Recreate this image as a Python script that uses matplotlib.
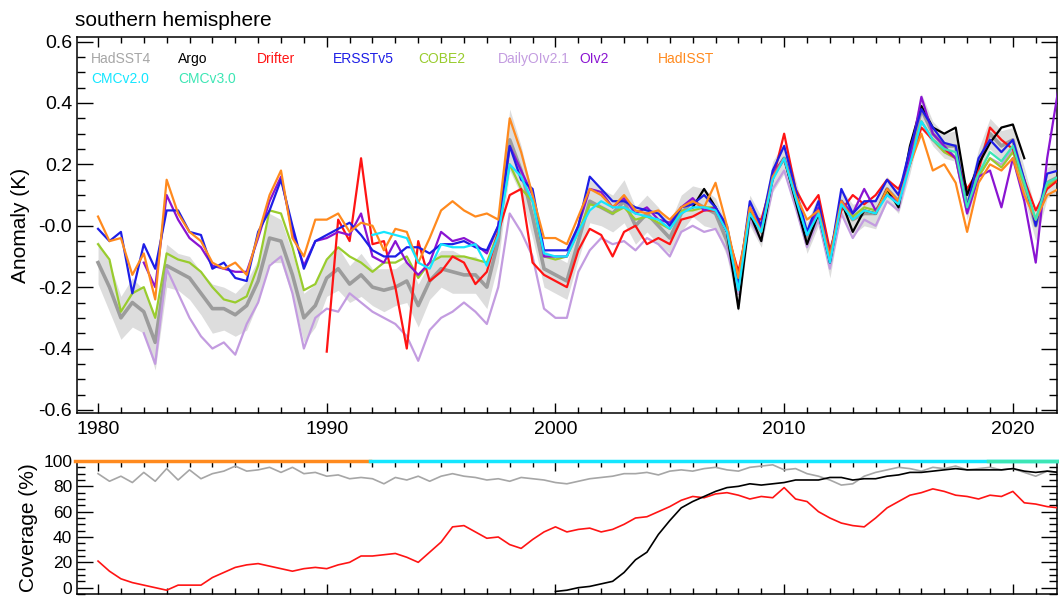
import numpy as np
import matplotlib
matplotlib.use("Agg")
import matplotlib.pyplot as plt
from matplotlib.ticker import MultipleLocator, FixedLocator, FixedFormatter

plt.rcParams["font.family"] = ["Liberation Sans", "DejaVu Sans"]

nan = np.nan

# ── Data (half-year samples, 1980.0 .. 2022.0) ──────────────────────────────
YEARS = np.arange(1980.0, 2022.01, 0.5)

ERSST = [
    -0.01, -0.05, -0.02, -0.22, -0.06, -0.14, 0.05, 0.05, -0.02, -0.03,
    -0.14, -0.12, -0.17, -0.18, -0.02, 0.05, 0.15, 0.00, -0.14, -0.05,
    -0.03, -0.01, 0.01, -0.03, -0.08, -0.10, -0.10, -0.07, -0.07, -0.09,
    -0.06, -0.06, -0.05, -0.07, -0.08, 0.00, 0.26, 0.15, 0.12, -0.08,
    -0.08, -0.08, 0.00, 0.16, 0.12, 0.08, 0.08, 0.06, 0.05, 0.04,
    0.00, 0.06, 0.07, 0.10, 0.06, 0.00, -0.19, 0.08, 0.00, 0.18,
    0.26, 0.12, -0.02, 0.08, -0.11, 0.12, 0.04, 0.08, 0.08, 0.15,
    0.10, 0.25, 0.38, 0.32, 0.27, 0.26, 0.06, 0.22, 0.28, 0.24,
    0.28, 0.15, 0.00, 0.17, 0.18,
]
HADISST = [
    0.03, -0.05, -0.04, -0.16, -0.09, -0.24, 0.15, 0.04, -0.02, -0.05,
    -0.12, -0.14, -0.12, -0.16, -0.03, 0.10, 0.18, -0.04, -0.10, 0.02,
    0.02, 0.04, -0.02, 0.01, 0.00, -0.08, -0.01, -0.02, -0.12, -0.04,
    0.05, 0.08, 0.05, 0.03, 0.04, 0.02, 0.35, 0.24, 0.10, -0.04,
    -0.04, -0.06, 0.03, 0.12, 0.10, 0.06, 0.10, 0.05, 0.04, 0.05,
    0.02, 0.06, 0.08, 0.06, 0.14, 0.00, -0.17, 0.06, -0.02, 0.16,
    0.22, 0.10, 0.02, 0.05, -0.10, 0.08, 0.02, 0.05, 0.04, 0.12,
    0.08, 0.20, 0.30, 0.18, 0.20, 0.14, -0.02, 0.14, 0.20, 0.18,
    0.22, 0.10, 0.02, 0.10, 0.12,
]
OIV2 = [
    nan, nan, nan, nan, -0.12, -0.20, 0.10, 0.02, -0.04, -0.07,
    -0.13, -0.14, -0.15, -0.15, -0.04, 0.08, 0.16, -0.02, -0.13, -0.05,
    -0.04, -0.02, -0.03, 0.04, -0.10, -0.12, -0.05, -0.12, -0.16, -0.12,
    -0.02, -0.05, -0.04, -0.06, -0.09, 0.00, 0.26, 0.18, 0.10, -0.10,
    -0.10, -0.10, 0.00, 0.12, 0.11, 0.06, 0.09, 0.04, 0.06, 0.02,
    0.01, 0.06, 0.09, 0.05, 0.06, -0.02, -0.18, 0.06, -0.01, 0.17,
    0.22, 0.10, -0.03, 0.06, -0.10, 0.08, 0.04, 0.12, 0.05, 0.10,
    0.08, 0.22, 0.42, 0.30, 0.26, 0.22, 0.04, 0.16, 0.18, 0.06,
    0.22, 0.08, -0.12, 0.22, 0.45,
]
COBE2 = [
    -0.06, -0.11, -0.28, -0.22, -0.20, -0.30, -0.09, -0.11, -0.12, -0.15,
    -0.20, -0.24, -0.25, -0.23, -0.13, 0.05, 0.04, -0.07, -0.21, -0.19,
    -0.11, -0.07, -0.10, -0.12, -0.15, -0.12, -0.12, -0.10, -0.17, -0.12,
    -0.10, -0.10, -0.10, -0.11, -0.12, -0.02, 0.20, 0.12, 0.08, -0.10,
    -0.11, -0.10, -0.02, 0.07, 0.06, 0.04, 0.06, 0.02, 0.03, 0.01,
    -0.01, 0.05, 0.05, 0.06, 0.06, -0.01, -0.18, 0.05, -0.01, 0.16,
    0.22, 0.10, -0.02, 0.05, -0.10, 0.08, 0.03, 0.06, 0.05, 0.11,
    0.08, 0.22, 0.34, 0.28, 0.24, 0.22, 0.05, 0.16, 0.22, 0.19,
    0.24, 0.13, 0.02, 0.13, 0.15,
]
HADSST4 = [
    -0.12, -0.20, -0.30, -0.25, -0.28, -0.38, -0.13, -0.15, -0.17, -0.22,
    -0.27, -0.27, -0.29, -0.26, -0.18, -0.04, -0.05, -0.16, -0.30, -0.26,
    -0.17, -0.14, -0.19, -0.16, -0.20, -0.21, -0.20, -0.18, -0.26, -0.18,
    -0.14, -0.15, -0.16, -0.16, -0.20, -0.05, 0.28, 0.18, 0.03, -0.14,
    -0.16, -0.18, -0.05, 0.08, 0.06, 0.04, 0.08, 0.00, 0.04, 0.00,
    -0.04, 0.04, 0.08, 0.06, 0.04, -0.05, -0.22, 0.05, -0.02, 0.16,
    0.22, 0.10, -0.04, 0.05, -0.12, 0.08, 0.02, 0.04, 0.04, 0.12,
    0.08, 0.22, 0.38, 0.30, 0.26, 0.26, 0.06, 0.20, 0.30, 0.26,
    0.28, 0.14, 0.00, 0.14, 0.16,
]
HADSST4_UNC = [
    0.07, 0.08, 0.07, 0.08, 0.07, 0.09, 0.07, 0.06, 0.07, 0.07,
    0.08, 0.07, 0.07, 0.08, 0.07, 0.08, 0.07, 0.07, 0.08, 0.07,
    0.06, 0.07, 0.06, 0.07, 0.06, 0.07, 0.06, 0.07, 0.07, 0.06,
    0.06, 0.07, 0.06, 0.06, 0.07, 0.07, 0.10, 0.08, 0.07, 0.06,
    0.06, 0.06, 0.06, 0.07, 0.06, 0.06, 0.07, 0.06, 0.06, 0.06,
    0.05, 0.06, 0.05, 0.06, 0.05, 0.05, 0.06, 0.05, 0.05, 0.05,
    0.05, 0.05, 0.05, 0.05, 0.05, 0.04, 0.05, 0.04, 0.05, 0.04,
    0.04, 0.05, 0.05, 0.04, 0.04, 0.05, 0.04, 0.05, 0.05, 0.05,
    0.04, 0.05, 0.05, 0.05, 0.05,
]
DAILYOI = [
    nan, nan, nan, nan, -0.35, -0.45, -0.14, -0.22, -0.30, -0.36,
    -0.40, -0.38, -0.42, -0.32, -0.25, -0.13, -0.10, -0.22, -0.40, -0.30,
    -0.27, -0.28, -0.22, -0.25, -0.28, -0.30, -0.32, -0.36, -0.44, -0.34,
    -0.30, -0.28, -0.25, -0.28, -0.32, -0.20, 0.04, -0.02, -0.10, -0.27,
    -0.30, -0.30, -0.15, -0.08, -0.04, -0.06, -0.05, -0.08, -0.04, -0.06,
    -0.10, -0.02, 0.00, -0.02, -0.01, -0.08, -0.22, 0.02, -0.05, 0.12,
    0.18, 0.06, -0.07, 0.02, -0.14, 0.04, -0.04, 0.02, 0.00, 0.08,
    0.05, 0.20, 0.34, 0.28, 0.24, 0.22, 0.04, 0.16, 0.22, 0.20,
    0.25, 0.12, 0.02, 0.13, 0.15,
]
DRIFTER = [nan] * 20 + [
    -0.41, 0.02, -0.05, 0.22, -0.06, -0.05, -0.20, -0.40, -0.05, -0.18,
    -0.15, -0.10, -0.12, -0.19, -0.15, -0.02, 0.10, 0.12, -0.12, -0.16,
    -0.18, -0.20, -0.08, -0.01, -0.03, -0.10, -0.02, 0.00, -0.06, -0.04,
    -0.06, 0.02, 0.03, 0.05, 0.05, -0.02, -0.15, 0.03, 0.02, 0.15,
    0.30, 0.12, 0.05, 0.10, -0.08, 0.05, 0.10, 0.07, 0.10, 0.15,
    0.12, 0.20, 0.32, 0.28, 0.25, 0.22, 0.12, 0.18, 0.32, 0.28,
    0.25, 0.15, 0.05, 0.12, 0.15,
]
ARGO = [nan] * 52 + [
    0.06, 0.12, 0.06, -0.02, -0.27, 0.04, -0.05, 0.16,
    0.22, 0.08, -0.06, 0.04, -0.12, 0.08, -0.02, 0.05, 0.04, 0.12,
    0.06, 0.26, 0.39, 0.32, 0.30, 0.32, 0.10, 0.20, 0.27, 0.32,
    0.33, 0.22,
] + [nan] * 3
CMC2 = [nan] * 24 + [
    -0.03, -0.02, -0.03, -0.04, -0.12, -0.14, -0.06, -0.07, -0.07, -0.06,
    -0.13, -0.03, 0.20, 0.16, 0.08, -0.09, -0.10, -0.10, -0.02, 0.05,
    0.08, 0.06, 0.06, 0.04, 0.03, 0.02, -0.01, 0.04, 0.06, 0.06,
    0.05, -0.02, -0.21, 0.04, -0.02, 0.15, 0.22, 0.09, -0.03, 0.04,
    -0.12, 0.07, 0.02, 0.05, 0.04, 0.10, 0.07, 0.20, 0.34, 0.28,
    0.25,
] + [nan] * 10
CMC3 = [nan] * 73 + [
    0.28, 0.25, 0.24, 0.06, 0.17, 0.24, 0.21, 0.26, 0.14, 0.02, 0.14, 0.16,
]

# coverage (%)
COV_HADSST4 = [
    90, 84, 88, 83, 91, 84, 94, 85, 93, 86,
    90, 92, 96, 92, 93, 95, 91, 95, 90, 91,
    88, 89, 86, 87, 86, 82, 87, 85, 88, 84,
    88, 90, 88, 87, 85, 86, 84, 87, 86, 85,
    83, 82, 84, 86, 87, 88, 90, 90, 91, 89,
    92, 93, 92, 94, 95, 93, 92, 95, 96, 97,
    93, 94, 90, 88, 85, 81, 82, 88, 91, 93,
    95, 94, 92, 95, 94, 96, 93, 94, 95, 93,
    94, 91, 88, 92, 91,
]
COV_DRIFTER = [
    21, 13, 7, 4, 2, 0, -2, 2, 2, 2,
    8, 12, 16, 18, 19, 17, 15, 13, 15, 16,
    15, 18, 20, 25, 25, 26, 27, 24, 20, 28,
    36, 48, 49, 44, 39, 40, 34, 31, 38, 44,
    48, 44, 46, 47, 44, 46, 50, 55, 56, 60,
    64, 69, 72, 71, 74, 75, 73, 70, 72, 71,
    79, 70, 68, 60, 55, 51, 49, 48, 55, 63,
    68, 73, 75, 78, 76, 73, 72, 70, 73, 72,
    76, 67, 66, 64, 63,
]
COV_ARGO = [nan] * 40 + [
    -3, -2, 0, 1, 3, 5, 12, 22, 28, 42,
    53, 63, 68, 72, 76, 79, 80, 82, 81, 82,
    83, 85, 85, 85, 87, 87, 85, 86, 86, 88,
    89, 91, 91, 92, 93, 94, 93, 93, 93, 93,
    94, 92, 91, 92, 91,
]
# full-coverage products drawn along the top edge
FULL_HADISST = ([1979.0, 1991.9], [100, 100])
FULL_CMC2 = ([1991.9, 2023.0], [100, 100])
FULL_CMC3 = ([2018.9, 2023.0], [100, 100])

COLORS = {
    "HadSST4": "#a6a6a6",
    "Argo": "#000000",
    "Drifter": "#ff1414",
    "ERSSTv5": "#1e1ee6",
    "COBE2": "#99cc2e",
    "DailyOIv2.1": "#c39ce0",
    "OIv2": "#8a14d2",
    "HadISST": "#ff8a1e",
    "CMCv2.0": "#14e6ff",
    "CMCv3.0": "#3ce6b4",
}

# ── Figure ───────────────────────────────────────────────────────────────────
W, H = 1059, 597
fig = plt.figure(figsize=(W / 100, H / 100), dpi=100)
ax = fig.add_axes([77 / W, 1 - 413 / H, 980 / W, 376 / H])
ax2 = fig.add_axes([77 / W, 1 - 594 / H, 980 / W, 133 / H])

XLIM = (1979.08, 2021.93)


def style_axis(a, size=14):
    for s in a.spines.values():
        s.set_linewidth(1.1)
    a.tick_params(which="both", direction="in", top=True, right=True, width=1.0, labelsize=size)
    a.tick_params(axis="y", which="major", length=11.5)
    a.tick_params(axis="y", which="minor", length=5.8)
    a.tick_params(axis="x", which="major", length=7.5)
    a.tick_params(axis="x", which="minor", length=4.3)
    a.xaxis.set_major_locator(MultipleLocator(10))
    a.xaxis.set_minor_locator(MultipleLocator(1))
    a.set_xlim(*XLIM)


# top panel: anomalies
hs = np.array(HADSST4)
unc = np.array(HADSST4_UNC)
ax.fill_between(YEARS, hs - unc, hs + unc, color="#dddddd", lw=0, zorder=1)
ax.plot(YEARS, hs, color="#9c9c9c", lw=2.6, zorder=2)

series = [
    ("DailyOIv2.1", DAILYOI),
    ("COBE2", COBE2),
    ("Drifter", DRIFTER),
    ("Argo", ARGO),
    ("OIv2", OIV2),
    ("ERSSTv5", ERSST),
    ("HadISST", HADISST),
    ("CMCv2.0", CMC2),
    ("CMCv3.0", CMC3),
]
for z, (name, vals) in enumerate(series):
    ax.plot(YEARS, np.array(vals, dtype=float), color=COLORS[name], lw=1.6, zorder=3 + z)

ax.set_ylim(-0.61, 0.615)
ax.yaxis.set_major_locator(FixedLocator([-0.6, -0.4, -0.2, 0.0, 0.2, 0.4, 0.6]))
ax.yaxis.set_major_formatter(FixedFormatter(["-0.6", "-0.4", "-0.2", "-0.0", "0.2", "0.4", "0.6"]))
ax.yaxis.set_minor_locator(MultipleLocator(0.05))
style_axis(ax)
ax.tick_params(axis="x", pad=6)
ax.set_ylabel("Anomaly (K)", fontsize=15, labelpad=6)

# dataset labels
label_rows = [
    ["HadSST4", "Argo", "Drifter", "ERSSTv5", "COBE2", "DailyOIv2.1", "OIv2", "HadISST"],
    ["CMCv2.0", "CMCv3.0"],
]
label_x = [91, 178, 257, 333, 418, 498, 579, 658]
label_y = [63, 83]
for row, ypx in zip(label_rows, label_y):
    for name, xpx in zip(row, label_x):
        ax.text((xpx - 77) / 980, (413 - ypx) / 376, name, transform=ax.transAxes,
                color=COLORS[name], fontsize=10, va="baseline", ha="left")

fig.text(75 / W, 1 - 26 / H, "southern hemisphere", fontsize=15, va="baseline", ha="left")

# bottom panel: coverage
for xs, ys, c in [
    (*FULL_HADISST, COLORS["HadISST"]),
    (*FULL_CMC2, COLORS["CMCv2.0"]),
    (*FULL_CMC3, COLORS["CMCv3.0"]),
]:
    ax2.plot(xs, ys, color=c, lw=2.5, zorder=5, clip_on=False)
ax2.plot(YEARS, COV_HADSST4, color=COLORS["HadSST4"], lw=1.2, zorder=2)
ax2.plot(YEARS, COV_DRIFTER, color=COLORS["Drifter"], lw=1.2, zorder=3)
ax2.plot(YEARS, np.array(COV_ARGO, dtype=float), color=COLORS["Argo"], lw=1.2, zorder=4)

ax2.set_ylim(-5, 100)
ax2.yaxis.set_major_locator(MultipleLocator(20))
ax2.yaxis.set_minor_locator(MultipleLocator(5))
style_axis(ax2, size=12.5)
ax2.set_xlim(*XLIM)
ax2.tick_params(axis="x", labelbottom=False)
ax2.set_ylabel("Coverage (%)", fontsize=15, labelpad=4)

fig.savefig("out.png", dpi=100)
